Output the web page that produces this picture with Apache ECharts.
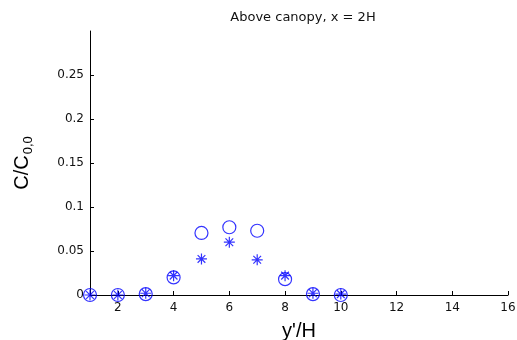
<!DOCTYPE html>
<html><head><meta charset="utf-8">
<script src="https://cdn.jsdelivr.net/npm/echarts@6/dist/echarts.min.js"></script>
<style>html,body{margin:0;padding:0;background:#fff}#c{width:517px;height:340px}</style>
</head><body><div id="c"></div>
<script>
const xPositions = [1, 2, 3, 4, 5, 6, 7, 8, 9, 10];
const circleValues = [0, 0, 0.001, 0.02, 0.0705, 0.077, 0.073, 0.018, 0.001, 0];
const starValues = [0, 0, 0.002, 0.022, 0.041, 0.060, 0.040, 0.022, 0.002, 0.001];
const xTicks = [2, 4, 6, 8, 10, 12, 14, 16];
const yTicks = [0, 0.05, 0.1, 0.15, 0.2, 0.25];
const titleText = 'Above canopy, x = 2H';

const blue = '#0000ff';
const font = 'DejaVu Sans, sans-serif';
const bigFont = 'Liberation Sans, Arial, sans-serif';
const chart = echarts.init(document.getElementById('c'));
const starPath = 'path://M5,0L5,10M0,5L10,5M1.5,1.5L8.5,8.5M1.5,8.5L8.5,1.5';

chart.setOption({
  animation: false,
  title: {text: titleText, left: 298, top: 6, textAlign: 'center',
    textStyle: {fontFamily: font, fontSize: 13, fontWeight: 'normal', color: '#111'}},
  grid: {left: 90, right: 9, top: 31, bottom: 45, containLabel: false, outerBoundsMode: 'none'},
  xAxis: {type: 'value', min: 1, max: 16, interval: 1,
    name: "y'/H", nameLocation: 'middle', nameGap: 26,
    nameTextStyle: {fontFamily: bigFont, fontSize: 20, color: '#000'},
    axisLine: {show: true, onZero: false, lineStyle: {color: '#000', width: 1}},
    axisTick: {show: true, inside: true, length: 4, lineStyle: {color: '#000'},
      customValues: [1].concat(xTicks)},
    axisLabel: {fontFamily: font, fontSize: 12, color: '#111', margin: 7,
      customValues: xTicks, formatter: v => String(v)},
    splitLine: {show: false}},
  yAxis: {type: 'value', min: 0, max: 0.3, interval: 0.05,
    name: '{a|C/C}{b|0,0}', nameLocation: 'middle', nameGap: 55, nameRotate: 90,
    nameTextStyle: {rich: {
      a: {fontFamily: bigFont, fontSize: 20, color: '#000'},
      b: {fontFamily: bigFont, fontSize: 13, color: '#000', verticalAlign: 'bottom', padding: [12, 0, 0, 1]}}},
    axisLine: {show: true, onZero: false, lineStyle: {color: '#000', width: 1}},
    axisTick: {show: true, inside: true, length: 4, lineStyle: {color: '#000'},
      customValues: yTicks},
    axisLabel: {fontFamily: font, fontSize: 12, color: '#111', margin: 6,
      customValues: yTicks, formatter: v => String(v)},
    splitLine: {show: false}},
  series: [
    {type: 'scatter', data: xPositions.map((x, i) => [x, circleValues[i]]),
      symbol: 'circle', symbolSize: 13, clip: false,
      itemStyle: {color: 'transparent', borderColor: blue, borderWidth: 1.2}, z: 3},
    {type: 'scatter', data: xPositions.map((x, i) => [x, starValues[i]]),
      symbol: starPath, symbolSize: 11, clip: false,
      itemStyle: {color: 'transparent', borderColor: blue, borderWidth: 1.2}, z: 4}
  ]
});
</script></body></html>
